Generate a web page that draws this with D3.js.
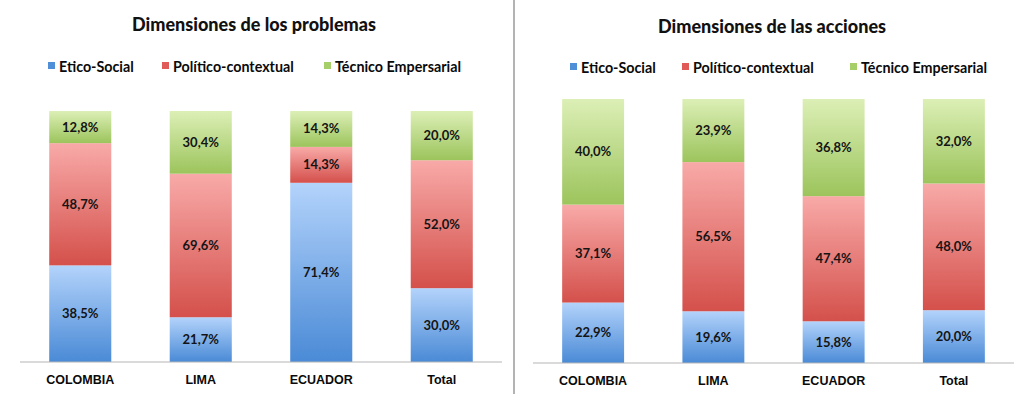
<!DOCTYPE html>
<html lang="es">
<head>
<meta charset="UTF-8">
<title>Dimensiones</title>
<script src="https://d3js.org/d3.v7.min.js"></script>
<style>
  body { margin: 0; background: #fff; }
  svg { display: block; font-family: Lato, "Open Sans", sans-serif; }
  .title { font-weight: 900; font-size: 18px; fill: #111; }
  .legend text { font-weight: bold; font-size: 14.3px; fill: #0a0a0a; }
  .val { font-weight: bold; font-size: 13px; fill: #141414; }
  .cat { font-weight: bold; font-size: 12.5px; fill: #0a0a0a; }
</style>
</head>
<body>
<div id="container"></div>
<script>
const width = 1014, height = 394;

// data
const categories = ["COLOMBIA", "LIMA", "ECUADOR", "Total"];
const seriesNames = ["Etico-Social", "Político-contextual", "Técnico Empersarial"];

const problemasEtico = [38.5, 21.7, 71.4, 30.0];
const problemasPolitico = [48.7, 69.6, 14.3, 52.0];
const problemasTecnico = [12.8, 30.4, 14.3, 20.0];

const accionesEtico = [22.9, 19.6, 15.8, 20.0];
const accionesPolitico = [37.1, 56.5, 47.4, 48.0];
const accionesTecnico = [40.0, 23.9, 36.8, 32.0];

// light top -> darker bottom, per series
const colors = [
  ["#b3d3fb", "#4a8ad6"],
  ["#f8aaa8", "#d4504b"],
  ["#dcefb6", "#9cc45c"]
];
const legendColors = ["#4f8fd8", "#e05a58", "#a6cf6a"];

const svg = d3.select("#container").append("svg")
  .attr("width", width)
  .attr("height", height);

const defs = svg.append("defs");
colors.forEach((c, i) => {
  const g = defs.append("linearGradient")
    .attr("id", "grad" + i)
    .attr("x1", 0).attr("y1", 0).attr("x2", 0).attr("y2", 1);
  g.append("stop").attr("offset", "0%").attr("stop-color", c[0]);
  g.append("stop").attr("offset", "100%").attr("stop-color", c[1]);
});

// separator between the two charts
svg.append("line")
  .attr("x1", 514).attr("x2", 514)
  .attr("y1", 0).attr("y2", height)
  .attr("stroke", "#9a9a9a").attr("stroke-width", 1.5);

function drawChart(cfg) {
  const g = svg.append("g");
  const rows = categories.map((c, i) => ({
    cat: c,
    "0": cfg.values[0][i], "1": cfg.values[1][i], "2": cfg.values[2][i]
  }));
  // 100% stacked, like the original (columns are normalised)
  const stacked = d3.stack().keys(["0", "1", "2"])
    .offset(d3.stackOffsetExpand)(rows);

  const x = d3.scaleBand().domain(categories)
    .range([cfg.x0, cfg.x1]).paddingInner(0.485).paddingOuter(0.2425);
  const y = d3.scaleLinear().domain([0, 1]).range([cfg.yBase, cfg.yTop]);

  g.append("text").attr("class", "title")
    .attr("x", cfg.titleX).attr("y", cfg.titleY)
    .attr("text-anchor", "middle")
    .text(cfg.title);

  // legend
  const leg = g.append("g").attr("class", "legend");
  seriesNames.forEach((s, i) => {
    const lx = cfg.legendX[i];
    leg.append("rect")
      .attr("x", lx).attr("y", cfg.legendY - 5)
      .attr("width", 7).attr("height", 7)
      .attr("fill", legendColors[i]);
    leg.append("text")
      .attr("x", lx + 11).attr("y", cfg.legendY + 5)
      .text(s);
  });

  stacked.forEach((layer, si) => {
    layer.forEach((d, ci) => {
      const top = y(d[1]), bot = y(d[0]);
      g.append("rect")
        .attr("x", x(categories[ci]))
        .attr("y", top)
        .attr("width", x.bandwidth())
        .attr("height", bot - top)
        .attr("fill", "url(#grad" + si + ")");
      g.append("text").attr("class", "val")
        .attr("x", x(categories[ci]) + x.bandwidth() / 2)
        .attr("y", (top + bot) / 2 + 4.5)
        .attr("text-anchor", "middle")
        .text(d3.format(".1f")(d.data[layer.key]).replace(".", ",") + "%");
    });
  });

  // baseline axis
  const axis = g.append("g")
    .attr("transform", `translate(0,${cfg.yBase})`)
    .call(d3.axisBottom(x).tickSize(0).tickPadding(13));
  axis.select(".domain").attr("stroke", "#b5b5b5").attr("stroke-width", 1.2)
    .attr("d", `M${cfg.x0},0H${cfg.x1}`);
  axis.selectAll("text").attr("class", "cat")
    .attr("font-family", null).attr("font-size", null).attr("fill", null);
}

drawChart({
  title: "Dimensiones de los problemas",
  titleX: 254, titleY: 31,
  legendX: [48, 162, 324], legendY: 67,
  values: [problemasEtico, problemasPolitico, problemasTecnico],
  x0: 20, x1: 502, yBase: 362, yTop: 111
});

drawChart({
  title: "Dimensiones de las acciones",
  titleX: 772, titleY: 33,
  legendX: [570, 682, 850], legendY: 68,
  values: [accionesEtico, accionesPolitico, accionesTecnico],
  x0: 533, x1: 1014, yBase: 363, yTop: 99
});
</script>
</body>
</html>
